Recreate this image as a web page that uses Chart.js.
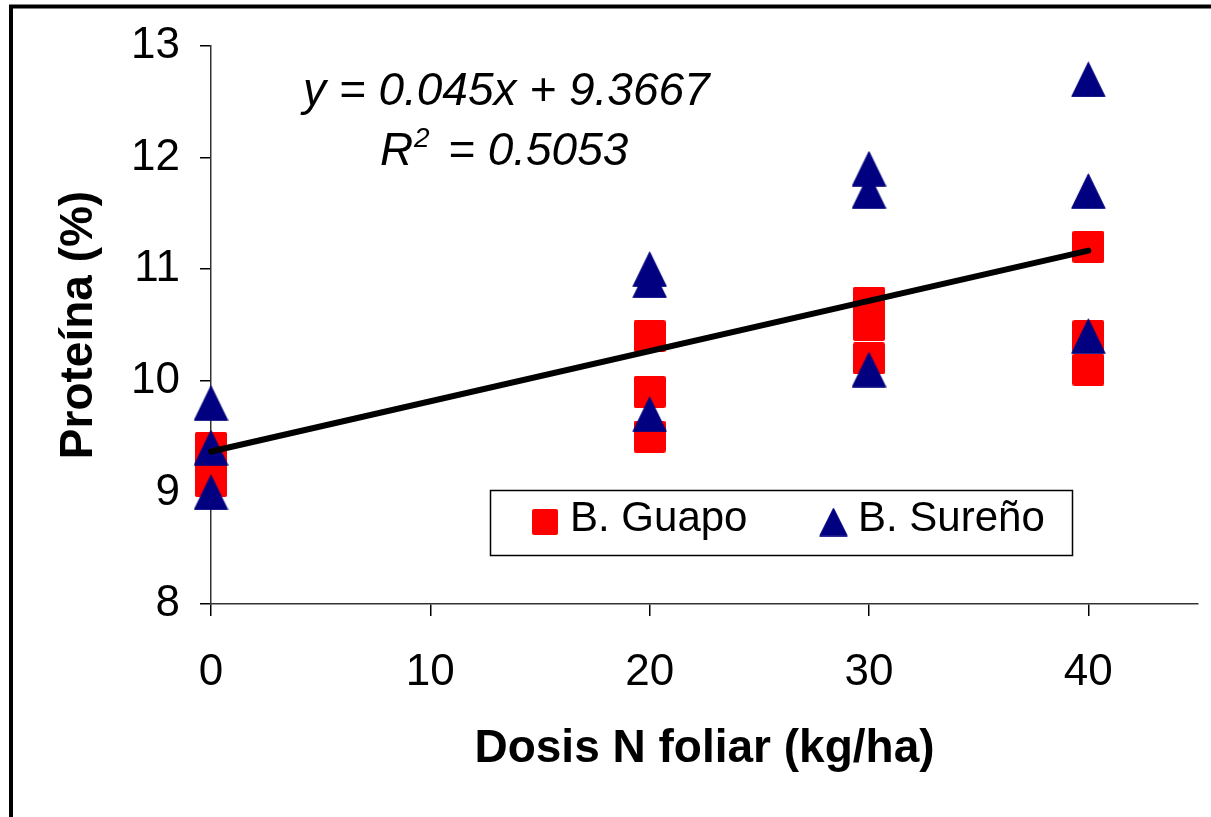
<!DOCTYPE html>
<html>
<head>
<meta charset="utf-8">
<script src="https://cdn.jsdelivr.net/npm/chart.js@4.4.1/dist/chart.umd.min.js"></script>
<style>
html,body{margin:0;padding:0;background:#ffffff;}
#c{display:block;width:1211px;height:817px;}
</style>
</head>
<body>
<canvas id="c" width="1211" height="817"></canvas>
<script>
// ---- data ----
const X_TICKS = [0, 10, 20, 30, 40];
const Y_TICKS = [8, 9, 10, 11, 12, 13];
const SERIES_NAMES = ['B. Guapo', 'B. Sureño'];
const DOSIS_GUAPO = [0, 0, 0, 20, 20, 20, 30, 30, 30, 40, 40, 40];
const PROT_GUAPO  = [9.4, 9.3, 9.1, 10.4, 9.9, 9.5, 10.7, 10.5, 10.2, 11.2, 10.4, 10.1];
const DOSIS_SURENO = [0, 0, 0, 20, 20, 20, 30, 30, 30, 40, 40, 40];
const PROT_SURENO  = [9.8, 9.4, 9.0, 11.0, 10.9, 9.7, 11.9, 11.7, 10.1, 12.7, 11.7, 10.4];
const TREND_X = [0, 40];
const TREND_Y = [9.3667, 11.1667];
const EQ_LINE1 = 'y = 0.045x + 9.3667';
const EQ_R = 'R';
const EQ_SUP = '2';
const EQ_LINE2 = '= 0.5053';
const X_TITLE = 'Dosis N foliar (kg/ha)';
const Y_TITLE = 'Proteína (%)';

const FONT = '"Liberation Sans", Arial, Helvetica, sans-serif';
const RED = '#FF0000';
const NAVY = '#000080';

function squareImg(s, color) {
  const c = document.createElement('canvas');
  c.width = s; c.height = s;
  const g = c.getContext('2d');
  g.fillStyle = color;
  const r = 2;
  g.beginPath();
  g.moveTo(r, 0); g.lineTo(s - r, 0); g.quadraticCurveTo(s, 0, s, r);
  g.lineTo(s, s - r); g.quadraticCurveTo(s, s, s - r, s);
  g.lineTo(r, s); g.quadraticCurveTo(0, s, 0, s - r);
  g.lineTo(0, r); g.quadraticCurveTo(0, 0, r, 0);
  g.closePath(); g.fill();
  return c;
}
function triImg(w, h, color) {
  const c = document.createElement('canvas');
  c.width = w; c.height = h;
  const g = c.getContext('2d');
  g.fillStyle = color; g.strokeStyle = color; g.lineWidth = 1; g.lineJoin = 'round';
  g.beginPath();
  g.moveTo(0.75, h - 0.75); g.lineTo(w / 2, 0.75); g.lineTo(w - 0.75, h - 0.75);
  g.closePath(); g.fill(); g.stroke();
  return c;
}
const SQ = squareImg(32, RED);
const TRI = triImg(35, 36, NAVY);
const LEG_SQ = squareImg(26, RED);
const LEG_TRI = triImg(29, 29, NAVY);

function pts(xs, ys) { return xs.map((x, i) => ({x: x, y: ys[i]})); }

const framePlugin = {
  id: 'frame',
  beforeDraw(chart) {
    const ctx = chart.ctx;
    ctx.save();
    ctx.fillStyle = '#ffffff';
    ctx.fillRect(0, 0, chart.width, chart.height);
    ctx.strokeStyle = '#000000';
    ctx.lineWidth = 4;
    ctx.beginPath();
    ctx.moveTo(11, chart.height + 5);
    ctx.lineTo(11, 6.5);
    ctx.lineTo(chart.width + 5, 6.5);
    ctx.stroke();
    ctx.restore();
  }
};

const annotPlugin = {
  id: 'annot',
  afterDraw(chart) {
    const ctx = chart.ctx;
    ctx.save();
    // trendline equation
    ctx.fillStyle = '#000000';
    ctx.textBaseline = 'alphabetic';
    ctx.textAlign = 'left';
    ctx.font = 'italic 46px ' + FONT;
    ctx.fillText(EQ_LINE1, 303, 105);
    ctx.fillText(EQ_R, 380, 165);
    ctx.fillText(EQ_LINE2, 448, 165);
    ctx.font = 'italic 28px ' + FONT;
    ctx.fillText(EQ_SUP, 414, 147);
    // legend box
    ctx.fillStyle = '#ffffff';
    ctx.fillRect(490.5, 490.5, 582, 65);
    ctx.strokeStyle = '#000000';
    ctx.lineWidth = 1.5;
    ctx.strokeRect(490.5, 490.5, 582, 65);
    const entries = [
      { name: SERIES_NAMES[0], img: LEG_SQ, cx: 545, tx: 570 },
      { name: SERIES_NAMES[1], img: LEG_TRI, cx: 833.5, tx: 858 }
    ];
    ctx.font = '42px ' + FONT;
    ctx.fillStyle = '#000000';
    entries.forEach(e => {
      ctx.drawImage(e.img, e.cx - e.img.width / 2, 522 - e.img.height / 2);
      ctx.fillText(e.name, e.tx, 531);
    });
    ctx.restore();
  }
};

new Chart(document.getElementById('c'), {
  type: 'scatter',
  data: {
    datasets: [
      {
        label: 'Tendencia',
        data: pts(TREND_X, TREND_Y),
        showLine: true,
        borderColor: '#000000',
        borderWidth: 6,
        borderCapStyle: 'round',
        pointRadius: 0,
        order: 0,
        clip: false
      },
      {
        label: SERIES_NAMES[1],
        data: pts(DOSIS_SURENO, PROT_SURENO),
        pointStyle: TRI,
        pointRadius: 18,
        backgroundColor: NAVY,
        borderColor: NAVY,
        order: 1,
        clip: false
      },
      {
        label: SERIES_NAMES[0],
        data: pts(DOSIS_GUAPO, PROT_GUAPO),
        pointStyle: SQ,
        pointRadius: 16,
        backgroundColor: RED,
        borderColor: RED,
        order: 2,
        clip: false
      }
    ]
  },
  options: {
    responsive: false,
    animation: false,
    events: [],
    layout: { autoPadding: false, padding: { left: 0, top: 46, right: 13, bottom: 0 } },
    plugins: {
      legend: { display: false },
      tooltip: { enabled: false }
    },
    scales: {
      x: {
        type: 'linear',
        min: 0, max: 45,
        afterBuildTicks(s) { s.ticks = X_TICKS.map(v => ({value: v})); },
        afterFit(s) { s.height = 213; s.paddingRight = 0; s.paddingLeft = 0; },
        grid: { display: true, drawOnChartArea: false, drawTicks: true, tickLength: 12, color: '#000000', lineWidth: 1.5 },
        border: { display: true, color: '#333333', width: 1.5 },
        ticks: { color: '#000000', font: { family: FONT, size: 44 }, padding: 30, maxRotation: 0 },
        title: { display: true, text: X_TITLE, color: '#000000', font: { family: FONT, size: 46, weight: 'bold' }, padding: { top: 0, bottom: 40 } }
      },
      y: {
        type: 'linear',
        min: 8, max: 13,
        afterBuildTicks(s) { s.ticks = Y_TICKS.map(v => ({value: v})); },
        afterFit(s) { s.width = 211; s.paddingTop = 0; s.paddingBottom = 0; },
        grid: { display: true, drawOnChartArea: false, drawTicks: true, tickLength: 11, color: '#000000', lineWidth: 1.5 },
        border: { display: true, color: '#333333', width: 1.5 },
        ticks: { color: '#000000', font: { family: FONT, size: 44 }, padding: 20 },
        title: { display: true, text: Y_TITLE, color: '#000000', font: { family: FONT, size: 46, weight: 'bold' }, padding: { top: 52, bottom: 0 } }
      }
    }
  },
  plugins: [framePlugin, annotPlugin]
});
</script>
</body>
</html>
